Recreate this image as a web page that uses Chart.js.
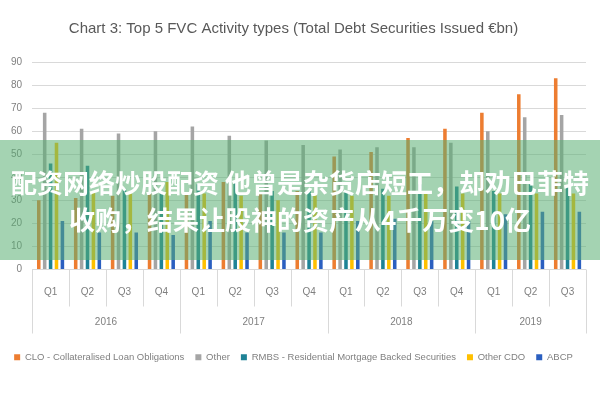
<!DOCTYPE html>
<html>
<head>
<meta charset="utf-8">
<script src="https://cdn.jsdelivr.net/npm/chart.js@4"></script>
<style>
  html, body { margin:0; padding:0; background:#fff; }
  #wrap { position:relative; width:600px; height:400px; }
  #banner {
    position:absolute; left:0; top:140px; width:600px; height:120px;
    background:rgba(90,175,115,0.55);
    color:#fff; font-family:"Noto Sans CJK SC", sans-serif; font-weight:bold;
    font-size:26px; line-height:37px; text-align:center;
    box-sizing:border-box; padding-top:23px; white-space:nowrap;
  }
</style>
</head>
<body>
<div id="wrap">
  <canvas id="c" width="600" height="400"></canvas>
  <div id="banner">配资网络炒股配资 他曾是杂货店短工，却劝巴菲特<br>收购，结果让股神的资产从4千万变10亿</div>
</div>
<script>
const quarters = ['Q1','Q2','Q3','Q4','Q1','Q2','Q3','Q4','Q1','Q2','Q3','Q4','Q1','Q2','Q3'];
const years = ['2016','2017','2018','2019'];
const yearSpans = [4,4,4,3];
const clo      = [30,31,32,33, 33,38,33,34, 49,51,57,61, 68,76,83];
const other    = [68,61,59,60, 62,58,56,54, 52,53,53,55, 60,66,67];
const rmbs     = [46,45,35,33, 37,38,34,34, 34,35,37,36, 34,37,36];
const otherCdo = [55,34,33,38, 33,32,30,33, 32,32,33,33, 33,33,33];
const abcp     = [21,16,16,15, 21,16,16,16, 21,22,21,21, 24,25,25];
const yTicks   = [0,10,20,30,40,50,60,70,80,90];

const FONT = '"Liberation Sans", sans-serif';
const GRID = '#d9d9d9';
const TXT = '#7f7f7f';

const groupPlugin = {
  id: 'groups',
  afterDraw(chart) {
    const x = chart.scales.x;
    const ctx = chart.ctx;
    const bottom = chart.chartArea.bottom;
    const half = (x.getPixelForValue(1) - x.getPixelForValue(0)) / 2;
    ctx.save();
    ctx.strokeStyle = GRID;
    ctx.lineWidth = 1;
    const yearStarts = new Set();
    let acc = 0;
    yearSpans.forEach(s => { yearStarts.add(acc); acc += s; });
    yearStarts.add(acc);
    for (let i = 0; i <= quarters.length; i++) {
      const px = Math.round((i < quarters.length ? x.getPixelForValue(i) - half : x.getPixelForValue(i - 1) + half)) + 0.5;
      const len = yearStarts.has(i) ? 64 : 37;
      ctx.beginPath();
      ctx.moveTo(px, bottom);
      ctx.lineTo(px, bottom + len);
      ctx.stroke();
    }
    ctx.fillStyle = TXT;
    ctx.font = '10px ' + FONT;
    ctx.textAlign = 'center';
    ctx.textBaseline = 'middle';
    let start = 0;
    years.forEach((yr, k) => {
      const a = x.getPixelForValue(start) - half;
      const b = x.getPixelForValue(start + yearSpans[k] - 1) + half;
      ctx.fillText(yr, (a + b) / 2, bottom + 53);
      start += yearSpans[k];
    });
    ctx.restore();
  }
};

new Chart(document.getElementById('c'), {
  type: 'bar',
  data: {
    labels: quarters,
    datasets: [
      { label: 'CLO - Collateralised Loan Obligations', data: clo, backgroundColor: '#ED7D31' },
      { label: 'Other', data: other, backgroundColor: '#A5A5A5' },
      { label: 'RMBS - Residential Mortgage Backed Securities', data: rmbs, backgroundColor: '#1E8296' },
      { label: 'Other CDO', data: otherCdo, backgroundColor: '#FFC000' },
      { label: 'ABCP', data: abcp, backgroundColor: '#2B5FC0' }
    ]
  },
  options: {
    responsive: false,
    animation: false,
    devicePixelRatio: 1,
    layout: { padding: { left: 1, right: 14, top: 0, bottom: 28 } },
    datasets: { bar: { categoryPercentage: 0.8, barPercentage: 0.6 } },
    plugins: {
      title: {
        display: true,
        text: 'Chart 3: Top 5 FVC Activity types (Total Debt Securities Issued €bn)',
        color: '#595959',
        font: { family: FONT, size: 15, weight: 'normal' },
        padding: { top: 20, bottom: 24 }
      },
      legend: {
        position: 'bottom',
        labels: {
          boxWidth: 6, boxHeight: 6, padding: 11,
          color: TXT, font: { family: FONT, size: 9.5 }
        }
      },
      tooltip: { enabled: false }
    },
    scales: {
      x: {
        grid: { display: false, drawTicks: false },
        border: { display: false },
        ticks: { color: TXT, font: { family: FONT, size: 10 }, padding: 17 },
        afterFit(s) { s.height = 72; }
      },
      y: {
        min: 0, max: 90,
        grid: { color: GRID, drawTicks: false },
        border: { display: false },
        afterBuildTicks(s) { s.ticks = yTicks.map(v => ({ value: v })); },
        ticks: { color: TXT, font: { family: FONT, size: 10 }, padding: 10 }
      }
    }
  },
  plugins: [groupPlugin]
});
</script>
</body>
</html>
